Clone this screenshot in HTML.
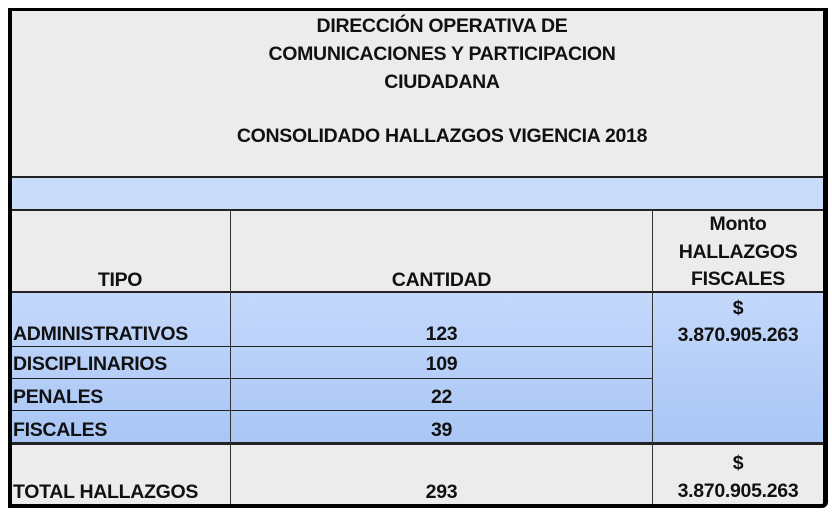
<!DOCTYPE html>
<html><head><meta charset="utf-8"><style>
body{margin:0;width:832px;height:516px;background:#fff;position:relative;overflow:hidden;font-family:"Liberation Sans",Arial,sans-serif;font-weight:bold;font-size:19.5px;color:#111;letter-spacing:-0.3px}
div{position:absolute;box-sizing:border-box;line-height:28px;white-space:nowrap}
.g{background:#ececec}
.b{background:linear-gradient(#c4d8fb,#a9c6f5)}
.hl{height:2px;background:#222}
.vl{width:1px;background:#333}
.c{text-align:center}
</style></head><body>
<div class="g" style="left:10px;top:10px;width:814px;height:167px"></div>
<div class="c" style="left:35px;top:12px;width:814px;line-height:28px">DIRECCIÓN OPERATIVA DE<br>COMUNICACIONES Y PARTICIPACION<br>CIUDADANA</div>
<div class="c" style="left:35px;top:122px;width:814px">CONSOLIDADO HALLAZGOS VIGENCIA 2018</div>
<div style="left:10px;top:178px;width:814px;height:32px;background:#c9dcfa"></div>
<div class="g" style="left:10px;top:211px;width:814px;height:81px"></div>
<div class="b" style="left:10px;top:293px;width:814px;height:150px"></div>
<div class="g" style="left:10px;top:444px;width:814px;height:60px"></div>
<div class="hl" style="left:10px;top:176px;width:814px"></div>
<div class="hl" style="left:10px;top:209px;width:814px"></div>
<div class="hl" style="left:10px;top:291px;width:814px"></div>
<div class="hl" style="left:10px;top:346px;width:642px;height:1px"></div>
<div class="hl" style="left:10px;top:378px;width:642px;height:1px"></div>
<div class="hl" style="left:10px;top:410px;width:642px;height:1px"></div>
<div class="hl" style="left:10px;top:442px;width:814px;height:3px"></div>
<div class="vl" style="left:230px;top:210px;height:294px"></div>
<div class="vl" style="left:652px;top:210px;height:294px"></div>
<div style="left:8px;top:8px;width:820px;height:500px;border:3px solid #000;border-left-width:4px;border-bottom-width:4px;border-right-width:5px;border-radius:0 0 6px 0"></div>
<div class="c" style="left:10px;top:266px;width:220px">TIPO</div>
<div class="c" style="left:231px;top:266px;width:421px">CANTIDAD</div>
<div class="c" style="left:653px;top:211px;width:170px;line-height:27.5px">Monto<br>HALLAZGOS<br>FISCALES</div>
<div style="left:13px;top:320px">ADMINISTRATIVOS</div>
<div style="left:13px;top:350px">DISCIPLINARIOS</div>
<div style="left:13px;top:383px">PENALES</div>
<div style="left:13px;top:416px">FISCALES</div>
<div style="left:13px;top:478px">TOTAL HALLAZGOS</div>
<div class="c" style="left:231px;top:320px;width:421px">123</div>
<div class="c" style="left:231px;top:350px;width:421px">109</div>
<div class="c" style="left:231px;top:383px;width:421px">22</div>
<div class="c" style="left:231px;top:416px;width:421px">39</div>
<div class="c" style="left:231px;top:478px;width:421px">293</div>
<div class="c" style="left:653px;top:295px;width:170px;line-height:27px">$<br>3.870.905.263</div>
<div class="c" style="left:653px;top:449px;width:170px">$<br>3.870.905.263</div>
</body></html>
